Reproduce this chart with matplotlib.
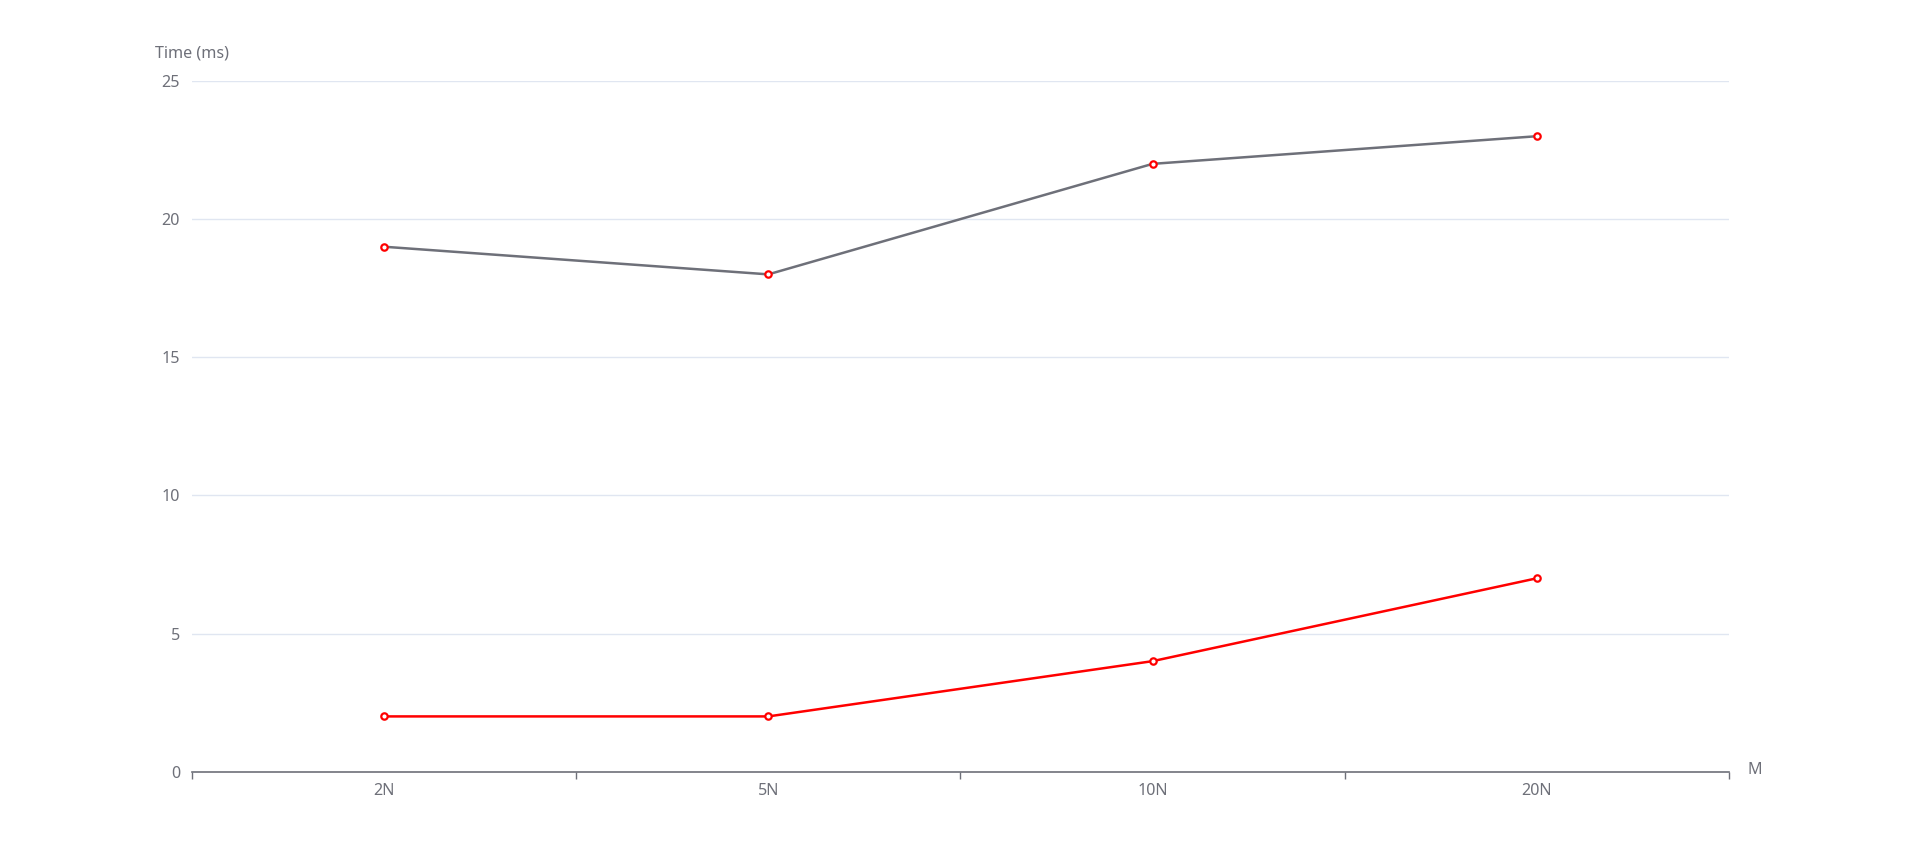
import matplotlib
matplotlib.use('Agg')
import matplotlib.pyplot as plt
import numpy as np

plt.rcParams['font.family'] = ['Noto Sans', 'DejaVu Sans']

categories = ['2N', '5N', '10N', '20N']
series_gray = [19, 18, 22, 23]
series_red = [2, 2, 4, 7]
y_ticks = [0, 5, 10, 15, 20, 25]

TEXT = '#6E7079'
GRID = '#E0E6F1'
FS = 11.6

fig = plt.figure(figsize=(19.19, 8.65), dpi=100)
ax = fig.add_axes([0.1, 0.1079, 0.801, 0.7985])

x = np.arange(len(categories))
for vals, color in [(series_gray, '#6E7079'), (series_red, '#FF0000')]:
    ax.plot(x, vals, color=color, lw=1.8, zorder=3)
    ax.plot(x, vals, ls='none', marker='o', ms=4.6, mfc='white',
            mec='#FF0000', mew=1.6, zorder=4)

ax.set_xlim(-0.5, len(categories) - 0.5)
ax.set_ylim(0, 25)
ax.set_yticks(y_ticks)
ax.set_yticklabels([str(t) for t in y_ticks])
ax.yaxis.grid(True, color=GRID, lw=1)
ax.set_axisbelow(True)
ax.tick_params(axis='y', length=0, pad=8.5, labelsize=FS, labelcolor=TEXT)

# category labels at centers, ticks at boundaries
ax.set_xticks(np.arange(-0.5, len(categories), 1.0))
ax.set_xticklabels([])
ax.set_xticks(x, minor=True)
ax.set_xticklabels(categories, minor=True)
ax.tick_params(axis='x', which='major', direction='out', length=5,
               color=TEXT, width=1)
ax.tick_params(axis='x', which='minor', length=0, pad=8, labelsize=FS,
               labelcolor=TEXT)

for s in ['top', 'right', 'left']:
    ax.spines[s].set_visible(False)
ax.spines['bottom'].set_color(TEXT)
ax.spines['bottom'].set_linewidth(1.2)

ax.text(0, 1.028, 'Time (ms)', transform=ax.transAxes, ha='center',
        va='bottom', fontsize=FS, color=TEXT)
ax.text(1.012, 0.003, 'M', transform=ax.transAxes, ha='left',
        va='center', fontsize=FS, color=TEXT)

fig.savefig('out.png', dpi=100)
